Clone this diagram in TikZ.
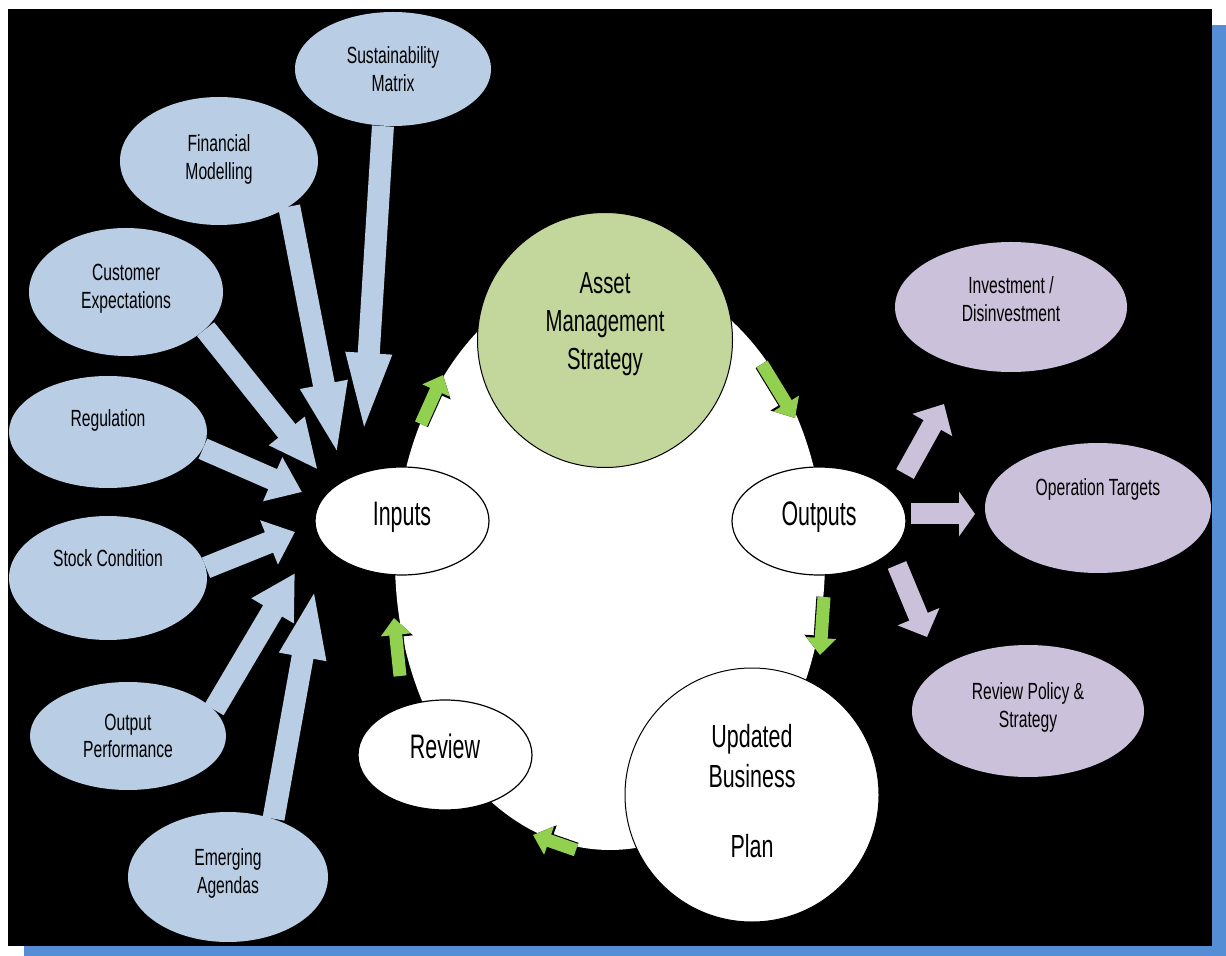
\documentclass[tikz,border=0pt]{standalone}
\usepackage{fontspec}
\newfontfamily\smallsans{Liberation Sans}[FakeStretch=0.67]
\newfontfamily\bigsans{Liberation Sans}[FakeStretch=0.63]
\usetikzlibrary{arrows.meta,shapes.geometric}

\definecolor{frameblue}{RGB}{85,142,213}
\definecolor{inblue}{RGB}{185,205,229}
\definecolor{outpurple}{RGB}{204,193,218}
\definecolor{stratgreen}{RGB}{195,214,155}
\definecolor{cyclegreen}{RGB}{146,208,80}

\tikzset{
  inbox/.style={ellipse, fill=inblue, inner sep=0pt, align=center,
    font=\smallsans\fontsize{11.7}{13.8}\selectfont},
  outbox/.style={ellipse, fill=outpurple, inner sep=0pt, align=center,
    font=\smallsans\fontsize{11.7}{13.8}\selectfont},
  stepbox/.style={ellipse, draw=black, line width=0.6pt, fill=white, inner sep=0pt,
    minimum width=87pt, minimum height=54pt, text height=12.5pt, text depth=8.3pt,
    font=\bigsans\fontsize{17}{20}\selectfont},
  bigcircle/.style={circle, draw=black, line width=0.5pt, inner sep=0pt, align=center},
  inarrow/.style 2 args={draw=inblue, line width=11pt, -{Triangle[length=#1, width=#2]}},
  outarrow/.style={draw=outpurple, line width=10.5pt, -{Triangle[length=#1, width=22pt]}},
  cyclearrow/.style={draw=cyclegreen, line width=6.5pt, -{Triangle[length=8.5pt, width=14.5pt]},
    preaction={draw=black, line width=7.6pt, -{Triangle[length=9.6pt, width=16.4pt]}}}
}

\begin{document}
\begin{tikzpicture}[x=0.5pt, y=-0.5pt]
  \useasboundingbox (0,0) rectangle (1226,956);
  % frame and backdrop
  \fill[white] (0,0) rectangle (1226,956);
  \fill[frameblue] (24,25) rectangle (1226,956);
  \fill[black] (8,9) rectangle (1212,946);
  \fill[white] (610,560) ellipse [x radius=215, y radius=290];

  % inputs
  \node[inbox, minimum width=98pt, minimum height=57pt] (sust) at (393,69) {Sustainability\\Matrix};
  \node[inbox, minimum width=99pt, minimum height=64pt] (fin) at (219,161) {Financial\\Modelling\\[-10pt]~};
  \node[inbox, minimum width=97pt, minimum height=64pt] (cust) at (126,292) {Customer\\Expectations\\[-8pt]~};
  \node[inbox, minimum width=99pt, minimum height=56pt] (reg) at (108,432) {Regulation\\~};
  \node[inbox, minimum width=99pt, minimum height=62pt] (stock) at (108,578) {Stock Condition\\[6pt]~};
  \node[inbox, minimum width=98pt, minimum height=54pt] (perf) at (128,736) {Output\\Performance};
  \node[inbox, minimum width=100pt, minimum height=65pt] (emerg) at (228,877) {Emerging\\Agendas\\[-8pt]~};

  \coordinate (sustTip) at (363,445);
  \coordinate (finTip) at (338,457);
  \coordinate (custTip) at (318,470);
  \coordinate (regTip) at (302,492);
  \coordinate (stockTip) at (295,532);
  \coordinate (perfTip) at (295,573);
  \coordinate (emergTip) at (315,588);
  \draw[inarrow={46pt}{19pt}] (sust.-100) -- (sustTip);
  \draw[inarrow={37pt}{21pt}] (fin.-33) -- (finTip);
  \draw[inarrow={25pt}{21pt}] (cust.-25) -- (custTip);
  \draw[inarrow={16pt}{23pt}] (reg.-10) -- (regTip);
  \draw[inarrow={14pt}{23pt}] (stock.6) -- (stockTip);
  \draw[inarrow={22pt}{23pt}] (perf.17) -- (perfTip);
  \draw[inarrow={35pt}{21pt}] (emerg.52) -- (emergTip);

  % cycle
  \node[stepbox] (inputs) at (402,521) {Inputs};
  \node[stepbox] (outputs) at (819,521) {Outputs};
  \node[stepbox, minimum height=55pt, text depth=9pt] (review) at (445,755) {Review};
  \node[bigcircle, fill=stratgreen, minimum size=127.5pt,
    font=\smallsans\fontsize{15.2}{19}\selectfont] (strat) at (605,340) {Asset\\Management\\Strategy\\~};
  \node[bigcircle, fill=white, minimum size=127pt,
    font=\smallsans\fontsize{16}{20}\selectfont] (plan) at (752,795) {Updated\\Business\\[15pt]Plan\\[-16pt]~};

  \coordinate (c1a) at (421,424);  \coordinate (c1b) at (443,375);
  \coordinate (c2a) at (762,364);  \coordinate (c2b) at (795,418);
  \coordinate (c3a) at (824,597);  \coordinate (c3b) at (820,655);
  \coordinate (c4a) at (576,850);  \coordinate (c4b) at (533,835);
  \coordinate (c5a) at (400,676);  \coordinate (c5b) at (394,618);
  \draw[cyclearrow] (c1a) -- (c1b);
  \draw[cyclearrow] (c2a) -- (c2b);
  \draw[cyclearrow] (c3a) -- (c3b);
  \draw[cyclearrow] (c4a) -- (c4b);
  \draw[cyclearrow] (c5a) -- (c5b);

  % outputs
  \node[outbox, minimum width=116pt, minimum height=65pt] (invest) at (1011,307) {Investment /\\Disinvestment\\[-6pt]~};
  \node[outbox, minimum width=113pt, minimum height=65pt] (targets) at (1098,508) {Operation Targets\\[7pt]~};
  \node[outbox, minimum width=116pt, minimum height=66pt] (policy) at (1028,711) {Review Policy \&\\Strategy\\[-8pt]~};

  \coordinate (investTail) at (905,474);  \coordinate (investTip) at (944,404);
  \coordinate (targetsTail) at (911,514); \coordinate (targetsTip) at (975,514);
  \coordinate (policyTail) at (897,565);  \coordinate (policyTip) at (927,637);
  \draw[outarrow={12pt}, line width=10pt] (investTail) -- (investTip);
  \draw[outarrow={8pt}] (targetsTail) -- (targetsTip);
  \draw[outarrow={11pt}, line width=10pt] (policyTail) -- (policyTip);
\end{tikzpicture}
\end{document}
